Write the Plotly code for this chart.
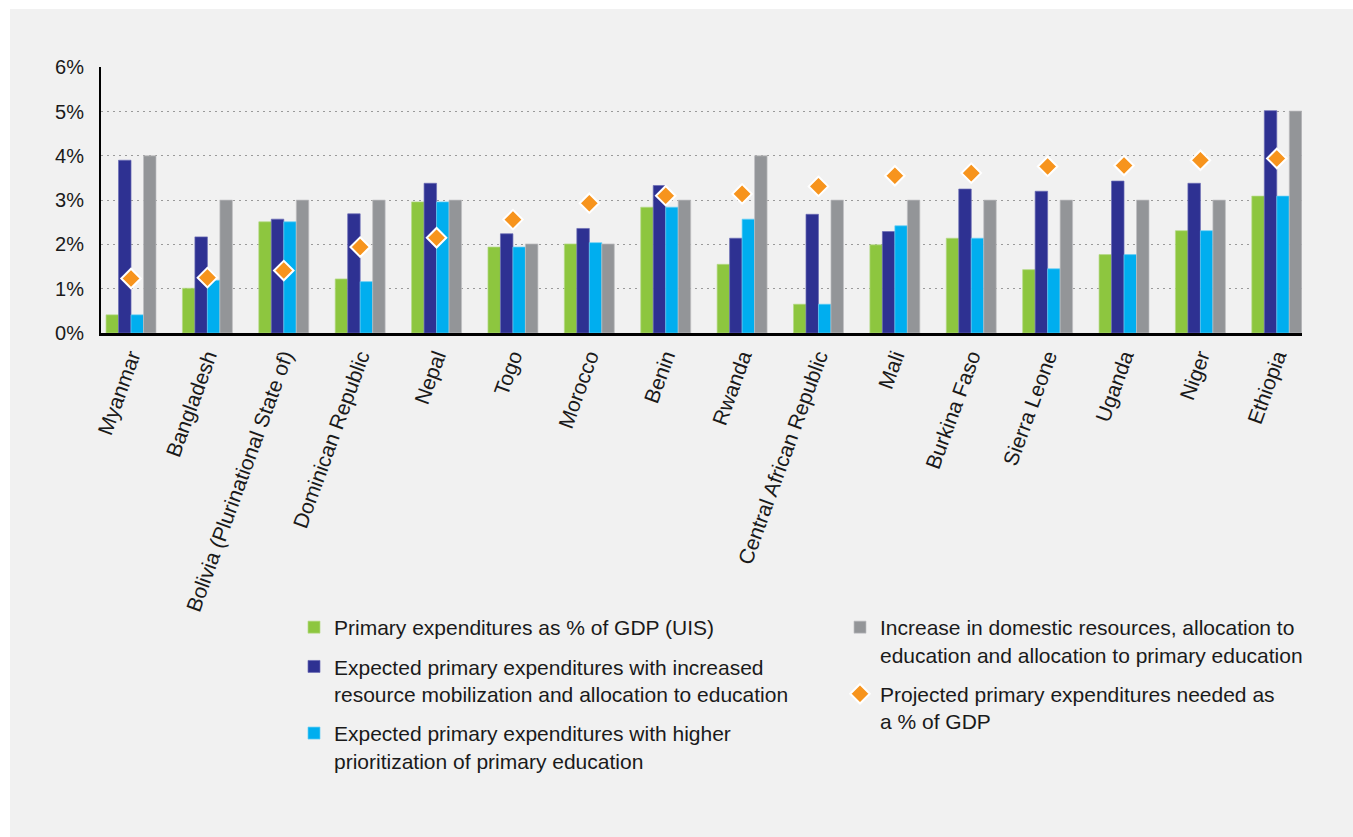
import plotly.graph_objects as go

countries = ["Myanmar", "Bangladesh", "Bolivia (Plurinational State of)", "Dominican Republic",
             "Nepal", "Togo", "Morocco", "Benin", "Rwanda", "Central African Republic", "Mali",
             "Burkina Faso", "Sierra Leone", "Uganda", "Niger", "Ethiopia"]

primary_uis = [0.41, 1.01, 2.51, 1.22, 2.96, 1.94, 2.01, 2.84, 1.55, 0.65, 1.99, 2.14, 1.43, 1.77, 2.31, 3.09]
expected_mobilization = [3.90, 2.17, 2.57, 2.69, 3.38, 2.24, 2.36, 3.33, 2.14, 2.68, 2.29, 3.25, 3.20, 3.43, 3.38, 5.02]
expected_prioritization = [0.41, 1.19, 2.51, 1.16, 2.96, 1.94, 2.04, 2.84, 2.57, 0.65, 2.42, 2.14, 1.45, 1.77, 2.31, 3.09]
increase_domestic = [4.0, 3.0, 3.0, 3.0, 3.0, 2.01, 2.01, 3.0, 4.0, 3.0, 3.0, 3.0, 3.0, 3.0, 3.0, 5.01]
projected_needed = [1.23, 1.25, 1.41, 1.94, 2.15, 2.56, 2.93, 3.10, 3.14, 3.31, 3.55, 3.61, 3.76, 3.78, 3.90, 3.94]

names = [
    "Primary expenditures as % of GDP (UIS)",
    "Expected primary expenditures with increased<br>resource mobilization and allocation to education",
    "Expected primary expenditures with higher<br>prioritization of primary education",
    "Increase in domestic resources, allocation to<br>education and allocation to primary education",
    "Projected primary expenditures needed as<br>a % of GDP",
]
colors = ["#8DC63F", "#2E3192", "#00AEEF", "#939598", "#F7941D"]
edge = ["#B5DA85", "#6A6CB5", "#66CEF5", "#BEBFC1"]

FONT = "Liberation Sans, Arial, sans-serif"
W, H = 1353, 837
L, R, T, B = 101, 51, 67, 837 - 333

fig = go.Figure()
series = [primary_uis, expected_mobilization, expected_prioritization, increase_domestic]
legends = ["legend", "legend", "legend", "legend2"]
for i, vals in enumerate(series):
    fig.add_trace(go.Bar(
        x=countries, y=vals, name=names[i],
        marker=dict(color=colors[i], line=dict(color=edge[i], width=0.7)),
        legend=legends[i], legendgroup=f"g{i}",
    ))
fig.add_trace(go.Scatter(
    x=countries, y=projected_needed, name=names[4], mode="markers",
    marker=dict(symbol="diamond", size=15, color=colors[4], line=dict(color="white", width=2)),
    legend="legend2", legendgroup="g4",
))

pw = W - L - R
ph = H - T - B
def px_x(p):
    return (p - L) / pw
def px_y(p):
    return (H - B - p) / ph

shapes = [
    dict(type="rect", xref="paper", yref="paper", x0=px_x(-5), x1=px_x(10), y0=px_y(H + 5), y1=px_y(-5),
         fillcolor="white", line=dict(width=0), layer="below"),
    dict(type="rect", xref="paper", yref="paper", x0=px_x(-5), x1=px_x(W + 5), y0=px_y(9), y1=px_y(-5),
         fillcolor="white", line=dict(width=0), layer="below"),
]

fig.update_layout(
    width=W, height=H,
    margin=dict(l=L, r=R, t=T, b=B, pad=0),
    paper_bgcolor="#F1F1F1", plot_bgcolor="#F1F1F1",
    barmode="group", bargap=0.346, bargroupgap=0,
    font=dict(family=FONT, color="#1a1a1a"),
    shapes=shapes,
    legend=dict(
        x=px_x(294), y=px_y(607), xanchor="left", yanchor="top",
        traceorder="grouped", tracegroupgap=9, valign="top",
        font=dict(size=21, family=FONT, color="#1a1a1a"), bgcolor="rgba(0,0,0,0)",
    ),
    legend2=dict(
        x=px_x(840), y=px_y(607), xanchor="left", yanchor="top",
        traceorder="grouped", tracegroupgap=9, valign="top",
        font=dict(size=21, family=FONT, color="#1a1a1a"), bgcolor="rgba(0,0,0,0)",
    ),
    xaxis=dict(
        type="category", range=[-0.393, 15.33],
        showline=True, linecolor="black", linewidth=3,
        ticks="", tickangle=-70, tickfont=dict(size=21, family=FONT, color="#1a1a1a"),
        showgrid=False,
    ),
    yaxis=dict(
        range=[0, 6.005], dtick=1, ticksuffix="%",
        showline=True, linecolor="black", linewidth=2,
        showgrid=True, gridcolor="#9a9a9a", griddash="2px,4px", gridwidth=1,
        zeroline=False, ticks="", ticklabelstandoff=11,
        tickfont=dict(size=20, family=FONT, color="#1a1a1a"),
    ),
)

fig.write_html(
    "out.html",
    config={"displayModeBar": False},
    post_script="document.body.style.margin='0';document.body.style.overflow='hidden';",
)
